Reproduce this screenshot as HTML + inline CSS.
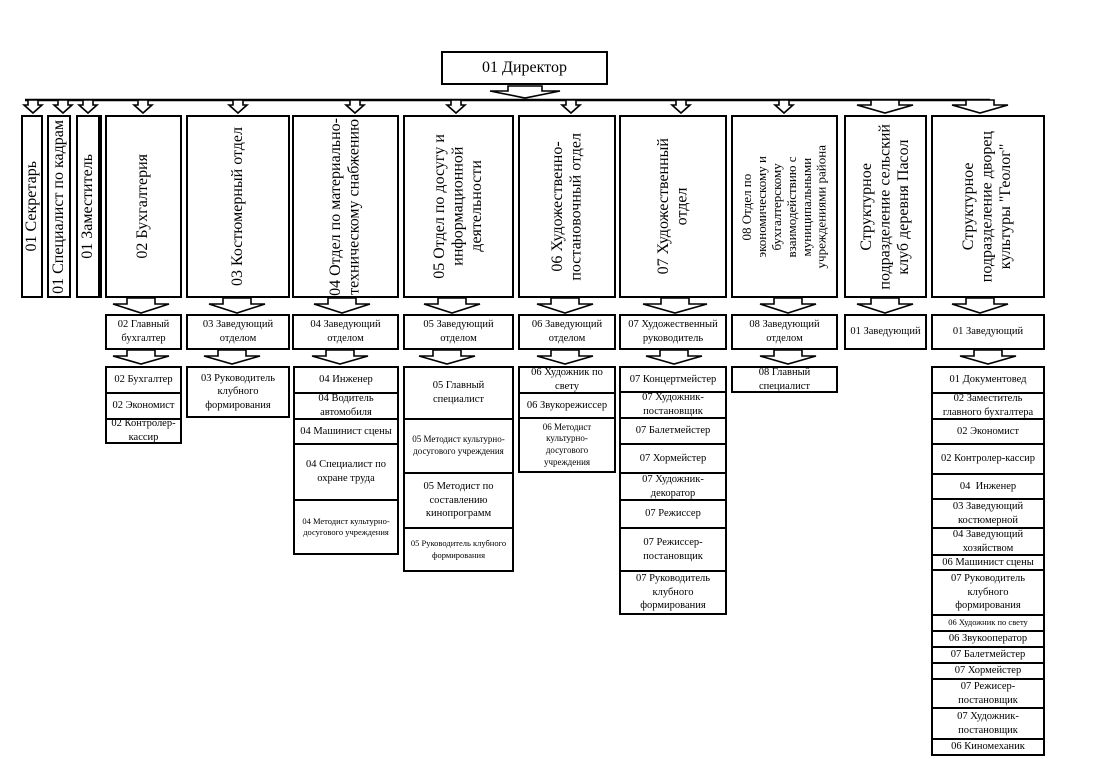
<!DOCTYPE html>
<html><head><meta charset="utf-8"><style>
body{margin:0;background:#fff;width:1117px;height:759px;position:relative;overflow:hidden;font-family:"Liberation Serif","DejaVu Serif",serif;color:#000}
.b{position:absolute;border:2px solid #000;box-sizing:border-box;display:flex;align-items:center;justify-content:center;text-align:center;font-size:10.5px;line-height:1.3;background:#fff}
.v{position:absolute;border:2px solid #000;box-sizing:border-box;display:flex;align-items:center;justify-content:center;text-align:center;font-size:16px;line-height:1.15;background:#fff}
.v span{writing-mode:vertical-rl;transform:rotate(180deg);white-space:nowrap}
svg{position:absolute;left:0;top:0}
</style></head><body>
<svg width="1117" height="759">
<g fill="#fff" stroke="#000" stroke-width="1.6">
<line x1="25" y1="100" x2="990" y2="100" stroke-width="2.5"/>
<polygon points="508,86 542,86 542,91 560,91 525,98 490,91 508,91"/>
<polygon points="28,100 38,100 38,105 42,105 33,113 24,105 28,105"/>
<polygon points="58,100 68,100 68,105 72,105 63,113 54,105 58,105"/>
<polygon points="83,100 93,100 93,105 97,105 88,113 79,105 83,105"/>
<polygon points="138,100 148,100 148,105 152,105 143,113 134,105 138,105"/>
<polygon points="233,100 243,100 243,105 247,105 238,113 229,105 233,105"/>
<polygon points="350,100 360,100 360,105 364,105 355,113 346,105 350,105"/>
<polygon points="451,100 461,100 461,105 465,105 456,113 447,105 451,105"/>
<polygon points="566,100 576,100 576,105 580,105 571,113 562,105 566,105"/>
<polygon points="676,100 686,100 686,105 690,105 681,113 672,105 676,105"/>
<polygon points="779,100 789,100 789,105 793,105 784,113 775,105 779,105"/>
<polygon points="871,100 899,100 899,105 913,105 885,113 857,105 871,105"/>
<polygon points="966,100 994,100 994,105 1008,105 980,113 952,105 966,105"/>
<polygon points="127,298 155,298 155,304 169,304 141,313 113,304 127,304"/>
<polygon points="223,298 251,298 251,304 265,304 237,313 209,304 223,304"/>
<polygon points="328,298 356,298 356,304 370,304 342,313 314,304 328,304"/>
<polygon points="438,298 466,298 466,304 480,304 452,313 424,304 438,304"/>
<polygon points="551,298 579,298 579,304 593,304 565,313 537,304 551,304"/>
<polygon points="661,298 689,298 689,304 707,304 675,313 643,304 661,304"/>
<polygon points="774,298 802,298 802,304 816,304 788,313 760,304 774,304"/>
<polygon points="871,298 899,298 899,304 913,304 885,313 857,304 871,304"/>
<polygon points="966,298 994,298 994,304 1008,304 980,313 952,304 966,304"/>
<polygon points="127,350 155,350 155,356 169,356 141,364 113,356 127,356"/>
<polygon points="218,350 246,350 246,356 260,356 232,364 204,356 218,356"/>
<polygon points="326,350 354,350 354,356 368,356 340,364 312,356 326,356"/>
<polygon points="433,350 461,350 461,356 475,356 447,364 419,356 433,356"/>
<polygon points="551,350 579,350 579,356 593,356 565,364 537,356 551,356"/>
<polygon points="660,350 688,350 688,356 702,356 674,364 646,356 660,356"/>
<polygon points="774,350 802,350 802,356 816,356 788,364 760,356 774,356"/>
<polygon points="974,350 1002,350 1002,356 1016,356 988,364 960,356 974,356"/>
</g>
</svg>

<div class="b" style="left:441px;top:51px;width:167px;height:34px;font-size:16px">01 Директор</div>

<div class="v" style="left:21px;top:115px;width:22px;height:183px"><span>01 Секретарь</span></div>
<div class="v" style="left:47px;top:115px;width:24px;height:183px"><span>01 Специалист по кадрам</span></div>
<div class="v" style="left:76px;top:115px;width:24px;height:183px"><span>01 Заместитель</span></div>
<div style="position:absolute;left:100px;top:115px;width:2px;height:183px;background:#000"></div>
<div class="v" style="left:105px;top:115px;width:77px;height:183px"><span>02 Бухгалтерия</span></div>
<div class="v" style="left:186px;top:115px;width:104px;height:183px"><span>03 Костюмерный отдел</span></div>
<div class="v" style="left:292px;top:115px;width:107px;height:183px"><span>04 Отдел по материально-<br>техническому снабжению</span></div>
<div class="v" style="left:403px;top:115px;width:111px;height:183px"><span>05 Отдел по досугу и<br>информационной<br>деятельности</span></div>
<div class="v" style="left:518px;top:115px;width:98px;height:183px"><span>06 Художественно-<br>постановочный отдел</span></div>
<div class="v" style="left:619px;top:115px;width:108px;height:183px"><span>07 Художественный<br>отдел</span></div>
<div class="v" style="left:731px;top:115px;width:107px;height:183px;font-size:13px"><span>08 Отдел по<br>экономическому и<br>бухгалтерскому<br>взаимодействию с<br>муниципальными<br>учреждениями района</span></div>
<div class="v" style="left:844px;top:115px;width:83px;height:183px"><span>Структурное<br>подразделение сельский<br>клуб деревня Пасол</span></div>
<div class="v" style="left:931px;top:115px;width:114px;height:183px"><span>Структурное<br>подразделение дворец<br>культуры "Геолог"</span></div>

<div class="b" style="left:105px;top:314px;width:77px;height:36px">02 Главный<br>бухгалтер</div>
<div class="b" style="left:186px;top:314px;width:104px;height:36px">03 Заведующий<br>отделом</div>
<div class="b" style="left:292px;top:314px;width:107px;height:36px">04 Заведующий<br>отделом</div>
<div class="b" style="left:403px;top:314px;width:111px;height:36px">05 Заведующий<br>отделом</div>
<div class="b" style="left:518px;top:314px;width:98px;height:36px">06 Заведующий<br>отделом</div>
<div class="b" style="left:619px;top:314px;width:108px;height:36px">07 Художественный<br>руководитель</div>
<div class="b" style="left:731px;top:314px;width:107px;height:36px">08 Заведующий<br>отделом</div>
<div class="b" style="left:844px;top:314px;width:83px;height:36px">01 Заведующий</div>
<div class="b" style="left:931px;top:314px;width:114px;height:36px">01 Заведующий</div>

<div class="b" style="left:105px;top:366px;width:77px;height:28px">02 Бухгалтер</div>
<div class="b" style="left:105px;top:392px;width:77px;height:28px">02 Экономист</div>
<div class="b" style="left:105px;top:418px;width:77px;height:26px">02 Контролер-<br>кассир</div>
<div class="b" style="left:186px;top:366px;width:104px;height:52px">03 Руководитель<br>клубного<br>формирования</div>
<div class="b" style="left:293px;top:366px;width:106px;height:28px">04 Инженер</div>
<div class="b" style="left:293px;top:392px;width:106px;height:28px">04 Водитель<br>автомобиля</div>
<div class="b" style="left:293px;top:418px;width:106px;height:27px">04 Машинист сцены</div>
<div class="b" style="left:293px;top:443px;width:106px;height:58px">04 Специалист по<br>охране труда</div>
<div class="b" style="left:293px;top:499px;width:106px;height:56px;font-size:8.5px">04 Методист культурно-<br>досугового учреждения</div>
<div class="b" style="left:403px;top:366px;width:111px;height:54px">05 Главный<br>специалист</div>
<div class="b" style="left:403px;top:418px;width:111px;height:56px;font-size:9px">05 Методист культурно-<br>досугового учреждения</div>
<div class="b" style="left:403px;top:472px;width:111px;height:57px">05 Методист по<br>составлению<br>кинопрограмм</div>
<div class="b" style="left:403px;top:527px;width:111px;height:45px;font-size:8.5px">05 Руководитель клубного<br>формирования</div>
<div class="b" style="left:518px;top:366px;width:98px;height:28px">06 Художник по<br>свету</div>
<div class="b" style="left:518px;top:392px;width:98px;height:27px">06 Звукорежиссер</div>
<div class="b" style="left:518px;top:417px;width:98px;height:56px;font-size:9px">06 Методист<br>культурно-<br>досугового<br>учреждения</div>
<div class="b" style="left:619px;top:366px;width:108px;height:27px">07 Концертмейстер</div>
<div class="b" style="left:619px;top:391px;width:108px;height:28px">07 Художник-<br>постановщик</div>
<div class="b" style="left:619px;top:417px;width:108px;height:28px">07 Балетмейстер</div>
<div class="b" style="left:619px;top:443px;width:108px;height:31px">07 Хормейстер</div>
<div class="b" style="left:619px;top:472px;width:108px;height:29px">07 Художник-<br>декоратор</div>
<div class="b" style="left:619px;top:499px;width:108px;height:30px">07 Режиссер</div>
<div class="b" style="left:619px;top:527px;width:108px;height:45px">07 Режиссер-<br>постановщик</div>
<div class="b" style="left:619px;top:570px;width:108px;height:45px">07 Руководитель<br>клубного<br>формирования</div>
<div class="b" style="left:731px;top:366px;width:107px;height:27px">08 Главный<br>специалист</div>
<div class="b" style="left:931px;top:366px;width:114px;height:28px">01 Документовед</div>
<div class="b" style="left:931px;top:392px;width:114px;height:28px">02 Заместитель<br>главного бухгалтера</div>
<div class="b" style="left:931px;top:418px;width:114px;height:27px">02 Экономист</div>
<div class="b" style="left:931px;top:443px;width:114px;height:32px">02 Контролер-кассир</div>
<div class="b" style="left:931px;top:473px;width:114px;height:27px">04&nbsp; Инженер</div>
<div class="b" style="left:931px;top:498px;width:114px;height:31px">03 Заведующий<br>костюмерной</div>
<div class="b" style="left:931px;top:527px;width:114px;height:29px">04 Заведующий<br>хозяйством</div>
<div class="b" style="left:931px;top:554px;width:114px;height:17px">06 Машинист сцены</div>
<div class="b" style="left:931px;top:569px;width:114px;height:47px">07 Руководитель<br>клубного<br>формирования</div>
<div class="b" style="left:931px;top:614px;width:114px;height:18px;font-size:8.5px">06 Художник по свету</div>
<div class="b" style="left:931px;top:630px;width:114px;height:18px">06 Звукооператор</div>
<div class="b" style="left:931px;top:646px;width:114px;height:18px">07 Балетмейстер</div>
<div class="b" style="left:931px;top:662px;width:114px;height:18px">07 Хормейстер</div>
<div class="b" style="left:931px;top:678px;width:114px;height:31px">07 Режисер-<br>постановщик</div>
<div class="b" style="left:931px;top:707px;width:114px;height:33px">07 Художник-<br>постановщик</div>
<div class="b" style="left:931px;top:738px;width:114px;height:18px">06 Киномеханик</div>
</body></html>
